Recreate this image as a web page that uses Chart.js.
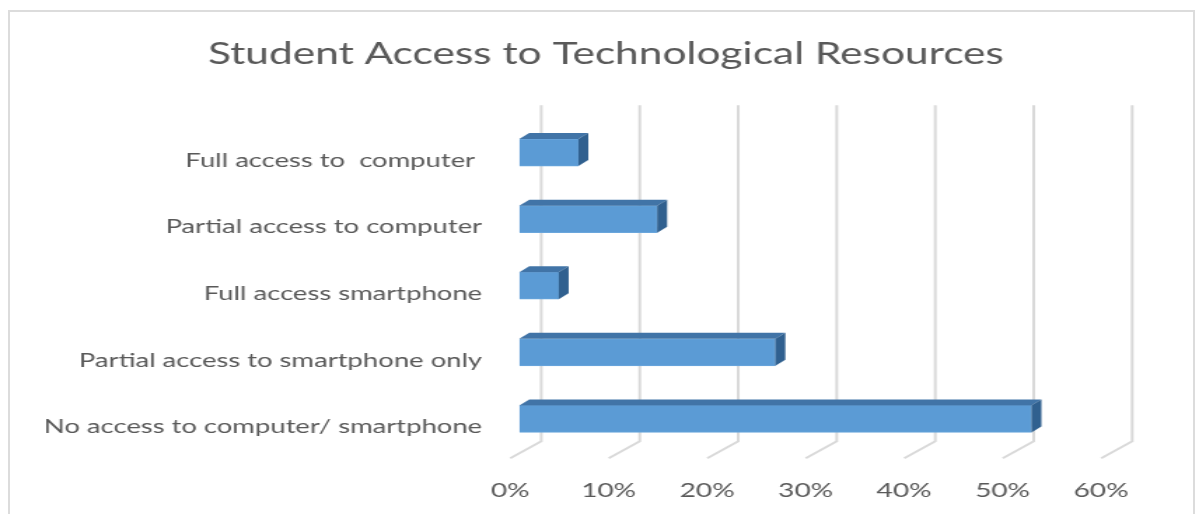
<!DOCTYPE html>
<html><head><meta charset="utf-8">
<script src="https://cdn.jsdelivr.net/npm/chart.js@4.4.1/dist/chart.umd.min.js"></script>
<style>
html,body{margin:0;padding:0;background:#fff;overflow:hidden;width:1199px;height:514px;}
#frame{position:absolute;left:8px;top:10px;width:1187px;height:600px;border:2px solid #dcdcdc;box-sizing:border-box;}
#wrap{position:absolute;left:0;top:0;width:856px;height:514px;transform:scaleX(1.4007);transform-origin:0 0;}
</style></head><body>
<div id="frame"></div>
<div id="wrap"><canvas id="c"></canvas></div>
<script>
const categories = [
  "Full access to  computer ",
  "Partial access to computer",
  "Full access smartphone",
  "Partial access to smartphone only",
  "No access to computer/ smartphone"
];
const values = [0.06, 0.14, 0.04, 0.26, 0.52];
const tickLabels = ["0%", "10%", "20%", "30%", "40%", "50%", "60%"];
const titleText = "Student Access to Technological Resources";

const S = 1.4007;
const depthPlugin = {
  id: 'depth3d',
  beforeDatasetsDraw(chart) {
    const ctx = chart.ctx, xs = chart.scales.x, a = chart.chartArea;
    const off = 22 / S, top = a.top - 14, bot = a.bottom - 11, fdx = -31 / S, fdy = 17;
    ctx.save();
    ctx.strokeStyle = '#d9d9d9';
    ctx.lineWidth = 2;
    xs.ticks.forEach(t => {
      const bx = xs.getPixelForValue(t.value) + off;
      ctx.beginPath();
      ctx.moveTo(bx, top);
      ctx.lineTo(bx, bot);
      ctx.lineTo(bx + fdx, bot + fdy);
      ctx.stroke();
    });
    ctx.restore();
  },
  afterDatasetsDraw(chart) {
    const ctx = chart.ctx, dx = 10 / S, dy = -6;
    ctx.save();
    chart.getDatasetMeta(0).data.forEach(el => {
      const p = el.getProps(['x', 'y', 'base', 'height'], true);
      const t = p.y - p.height / 2, b = p.y + p.height / 2;
      const l = Math.min(p.base, p.x), r = Math.max(p.base, p.x);
      ctx.fillStyle = '#4174a7';
      ctx.beginPath();
      ctx.moveTo(l, t); ctx.lineTo(r, t); ctx.lineTo(r + dx, t + dy); ctx.lineTo(l + dx, t + dy);
      ctx.closePath(); ctx.fill();
      ctx.fillStyle = '#30608f';
      ctx.beginPath();
      ctx.moveTo(r, t); ctx.lineTo(r + dx, t + dy); ctx.lineTo(r + dx, b + dy); ctx.lineTo(r, b);
      ctx.closePath(); ctx.fill();
    });
    ctx.restore();
  }
};

new Chart(document.getElementById('c'), {
  type: 'bar',
  data: {
    labels: categories,
    datasets: [{
      data: values,
      backgroundColor: '#5b9bd5',
      borderColor: '#6aa6dc',
      borderWidth: 1,
      barThickness: 27
    }]
  },
  plugins: [depthPlugin],
  options: {
    indexAxis: 'y',
    responsive: true,
    maintainAspectRatio: false,
    animation: false,
    layout: { padding: { left: 0, right: -9.2, top: 0, bottom: 0 } },
    plugins: {
      legend: { display: false },
      tooltip: { enabled: false },
      title: {
        display: true,
        text: titleText,
        color: '#595959',
        font: { family: 'Lato', size: 30.3, weight: 'normal', lineHeight: 1.2 },
        padding: { top: 36.5, bottom: 46.4 }
      }
    },
    scales: {
      x: {
        min: 0, max: 0.6,
        grid: { display: false, drawTicks: false },
        border: { display: false },
        afterFit(scale) { scale.height = 61.75; },
        ticks: {
          stepSize: 0.1,
          padding: 26,
          labelOffset: -6.5,
          color: '#595959',
          font: { family: 'Lato', size: 20 },
          maxRotation: 0,
          callback: (v, i) => tickLabels[i]
        }
      },
      y: {
        grid: { display: false, drawTicks: false },
        border: { display: false },
        afterFit(scale) { scale.width = 370.7; },
        ticks: {
          padding: 26.5,
          labelOffset: 8,
          color: '#595959',
          font: { family: 'Lato', size: 19.6 }
        }
      },
      y2: {
        type: 'category',
        position: 'right',
        display: true,
        grid: { display: false, drawTicks: false },
        border: { display: false },
        ticks: { display: false },
        afterFit(scale) { scale.width = 72.6; }
      }
    }
  }
});
</script>
</body></html>
